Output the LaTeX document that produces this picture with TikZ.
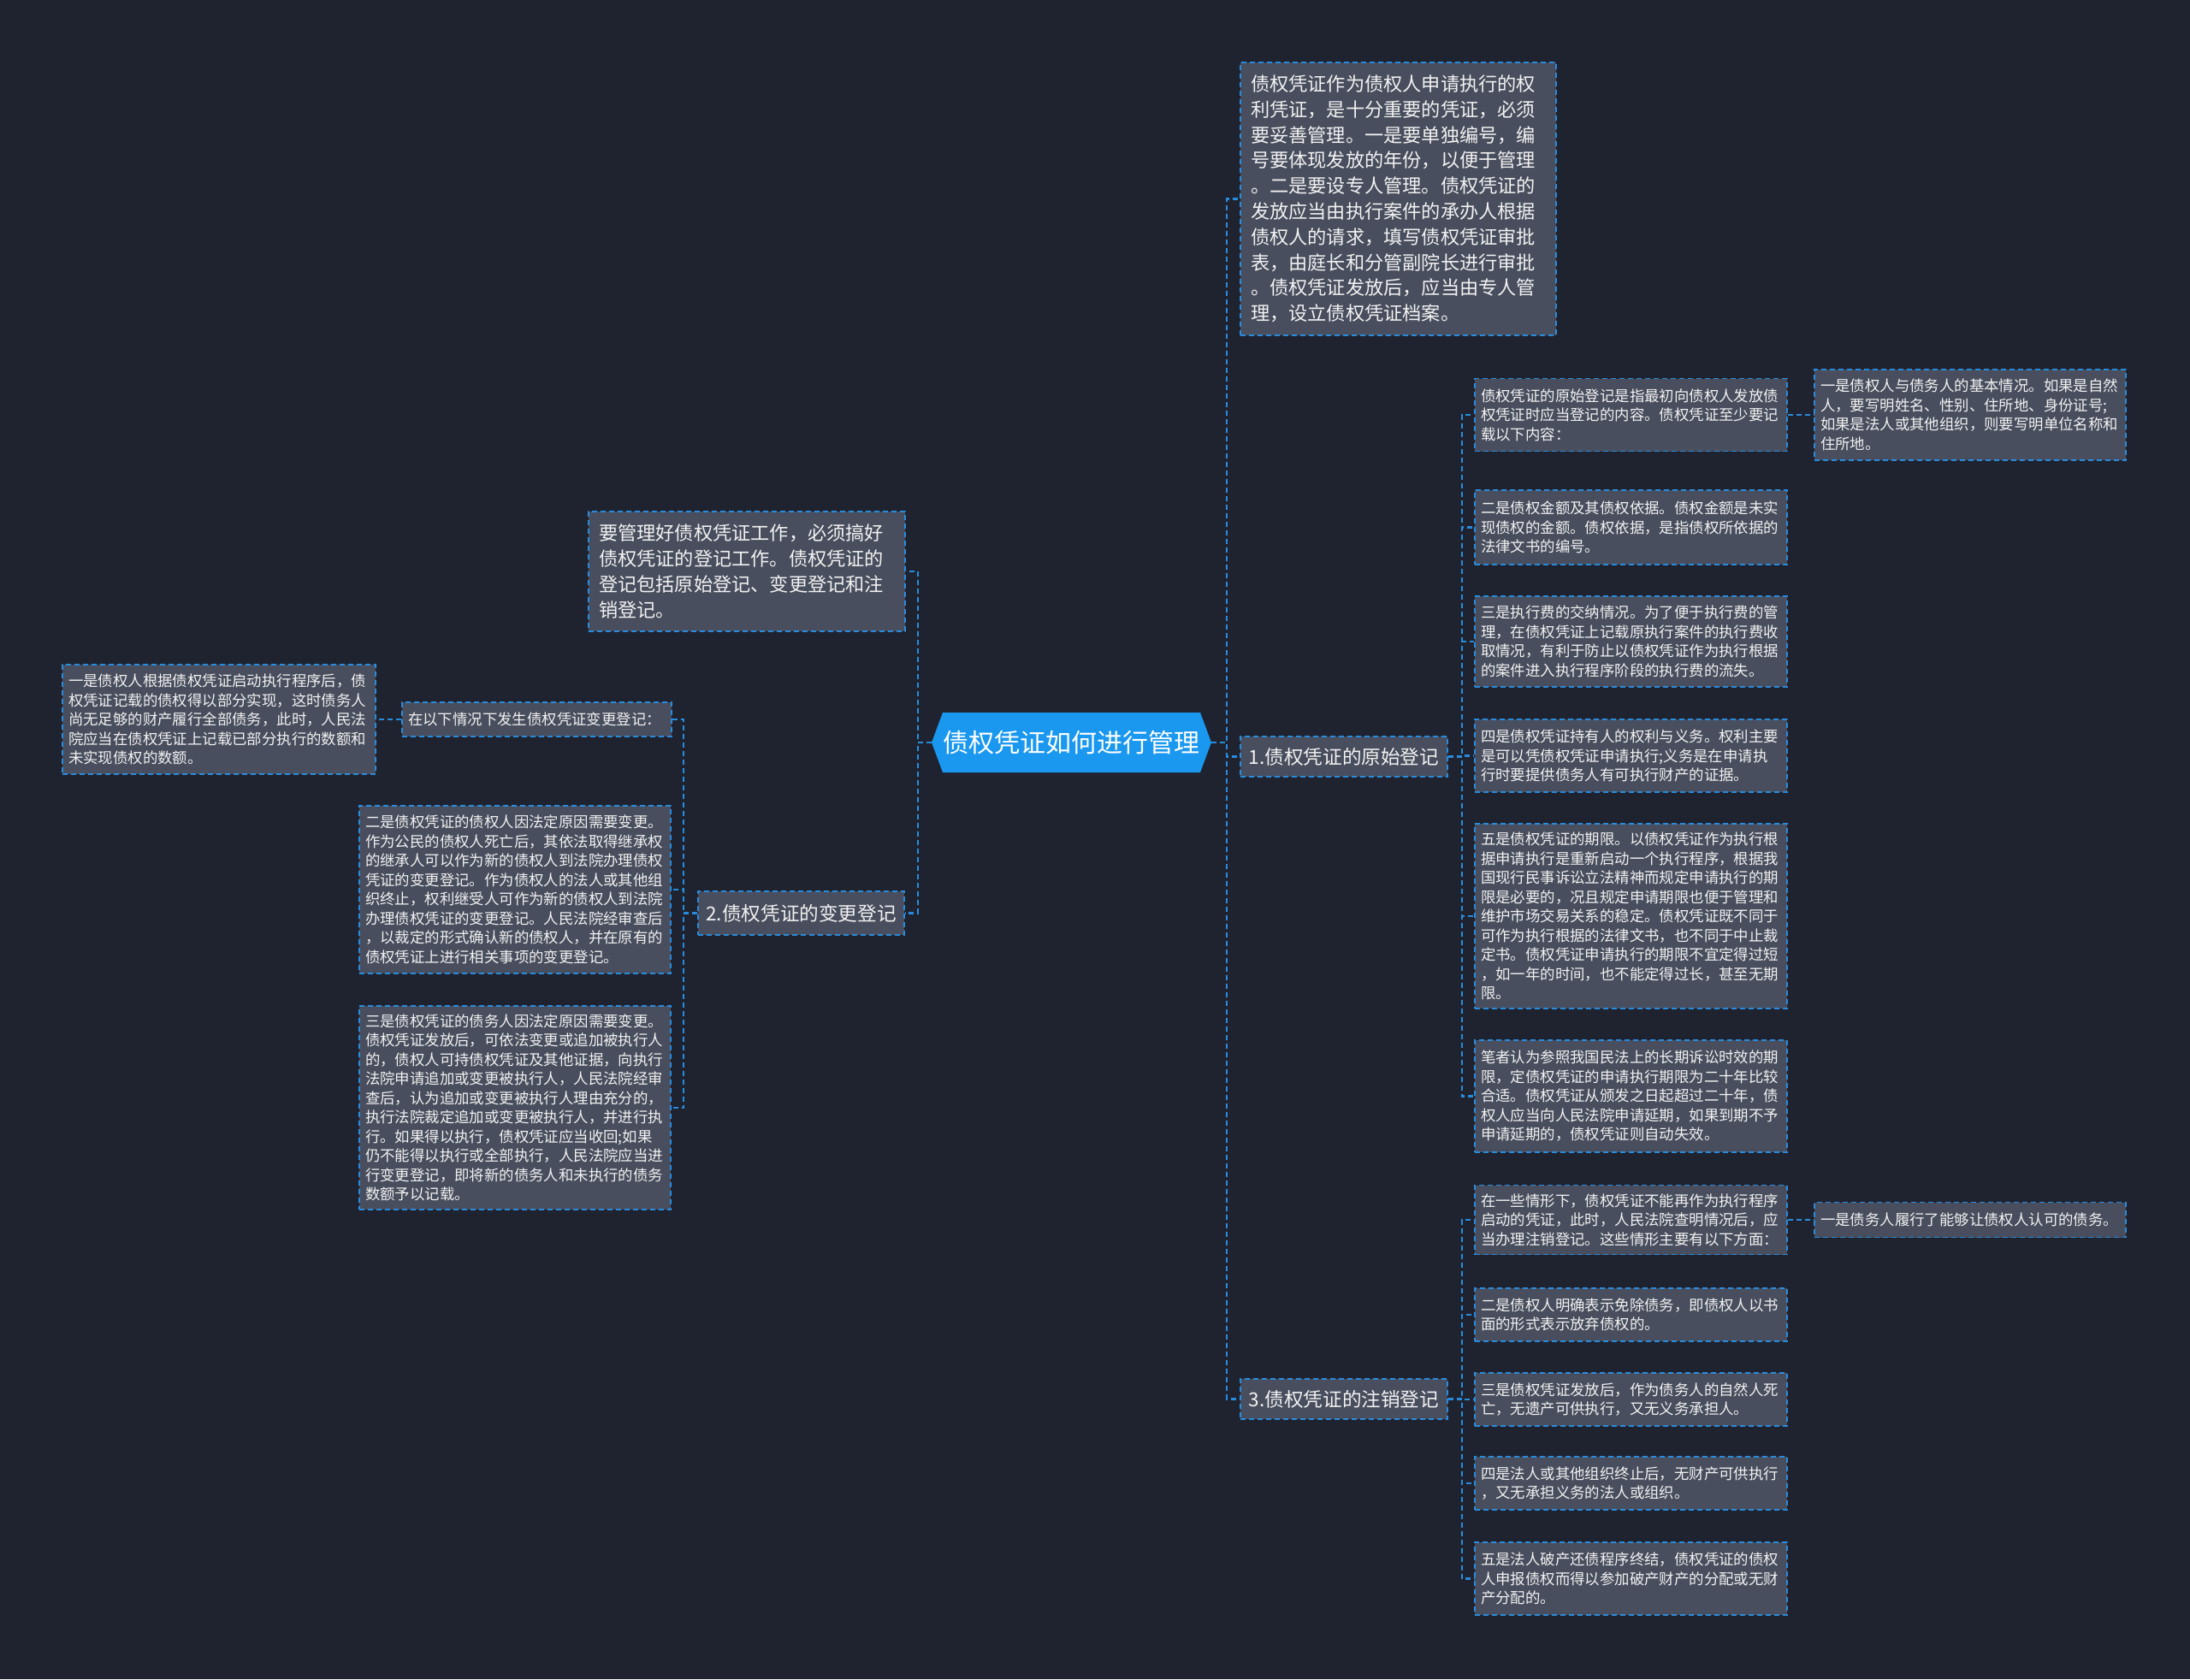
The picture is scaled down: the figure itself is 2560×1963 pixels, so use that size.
\documentclass[tikz,border=0pt]{standalone}
\usepackage{fontspec}
\setmainfont{Noto Sans CJK SC}
\usetikzlibrary{positioning}
\definecolor{mapbg}{RGB}{31,35,48}
\definecolor{boxgray}{RGB}{72,78,93}
\definecolor{edgeblue}{RGB}{40,140,222}
\definecolor{rootblue}{RGB}{26,152,240}
\definecolor{inktext}{RGB}{242,242,242}
\newcommand{\rootsize}{\fontsize{30}{36}\selectfont}
\newcommand{\topicsize}{\fontsize{22.6}{27}\selectfont}
\newcommand{\notesize}{\fontsize{22.2}{29.8}\selectfont}
\newcommand{\leafsize}{\fontsize{17.4}{22.5}\selectfont}
\tikzset{
  mapline/.style={draw=edgeblue, line width=2.2pt, dash pattern=on 6pt off 4pt},
  mapbase/.style={
    draw=edgeblue,
    line width=1.8pt,
    dash pattern=on 6pt off 4pt,
    fill=boxgray,
    text=inktext,
    align=left
  },
  maproot/.style={
    fill=mapbg,
    text=white,
    font=\rootsize,
    minimum width=327pt,
    minimum height=70pt,
    inner sep=0pt,
    path picture={
      \fill[rootblue] (path picture bounding box.west)
        -- ([xshift=13pt]path picture bounding box.north west)
        -- ([xshift=-13pt]path picture bounding box.north east)
        -- (path picture bounding box.east)
        -- ([xshift=-13pt]path picture bounding box.south east)
        -- ([xshift=13pt]path picture bounding box.south west) -- cycle;}
  },
  maptopic/.style={mapbase, font=\topicsize, align=center, inner sep=0pt, minimum width=242pt, minimum height=47pt},
  mapnote/.style={mapbase, font=\notesize, inner xsep=12pt, inner ysep=0pt, text width=345pt},
  mapleaf/.style={mapbase, font=\leafsize, inner xsep=7pt, inner ysep=0pt, text width=351pt}
}
\begin{document}
\begin{tikzpicture}[x=1pt, y=-1pt]
  \fill[mapbg] (0,0) rectangle (2560,1963);

  \node[maproot] (root) at (1252.5,868) {债权凭证如何进行管理};

  \node[mapnote, minimum height=319pt] (note) at (1634.5,232.5) {债权凭证作为债权人申请执行的权\\利凭证，是十分重要的凭证，必须\\要妥善管理。一是要单独编号，编\\号要体现发放的年份，以便于管理\\。二是要设专人管理。债权凭证的\\发放应当由执行案件的承办人根据\\债权人的请求，填写债权凭证审批\\表，由庭长和分管副院长进行审批\\。债权凭证发放后，应当由专人管\\理，设立债权凭证档案。};
  \node[maptopic] (orig) at (1571,884.5) {1.债权凭证的原始登记};
  \node[maptopic] (cancel) at (1571,1635.5) {3.债权凭证的注销登记};

  \node[mapleaf, minimum height=85pt] (orig1) at (1906.5,485) {债权凭证的原始登记是指最初向债权人发放债\\权凭证时应当登记的内容。债权凭证至少要记\\载以下内容：};
  \node[mapleaf, text width=350pt, minimum height=106pt] (origsub) at (2303,485) {一是债权人与债务人的基本情况。如果是自然\\人，要写明姓名、性别、住所地、身份证号;\\如果是法人或其他组织，则要写明单位名称和\\住所地。};
  \node[mapleaf, minimum height=87pt] (orig2) at (1906.5,616.5) {二是债权金额及其债权依据。债权金额是未实\\现债权的金额。债权依据，是指债权所依据的\\法律文书的编号。};
  \node[mapleaf, minimum height=106pt] (orig3) at (1906.5,750) {三是执行费的交纳情况。为了便于执行费的管\\理，在债权凭证上记载原执行案件的执行费收\\取情况，有利于防止以债权凭证作为执行根据\\的案件进入执行程序阶段的执行费的流失。};
  \node[mapleaf, minimum height=85pt] (orig4) at (1906.5,883.5) {四是债权凭证持有人的权利与义务。权利主要\\是可以凭债权凭证申请执行;义务是在申请执\\行时要提供债务人有可执行财产的证据。};
  \node[mapleaf, minimum height=216pt] (orig5) at (1906.5,1071) {五是债权凭证的期限。以债权凭证作为执行根\\据申请执行是重新启动一个执行程序，根据我\\国现行民事诉讼立法精神而规定申请执行的期\\限是必要的，况且规定申请期限也便于管理和\\维护市场交易关系的稳定。债权凭证既不同于\\可作为执行根据的法律文书，也不同于中止裁\\定书。债权凭证申请执行的期限不宜定得过短\\，如一年的时间，也不能定得过长，甚至无期\\限。};
  \node[mapleaf, minimum height=131pt] (orig6) at (1906.5,1281.5) {笔者认为参照我国民法上的长期诉讼时效的期\\限，定债权凭证的申请执行期限为二十年比较\\合适。债权凭证从颁发之日起超过二十年，债\\权人应当向人民法院申请延期，如果到期不予\\申请延期的，债权凭证则自动失效。};

  \node[mapleaf, minimum height=81pt] (cancel1) at (1906.5,1426) {在一些情形下，债权凭证不能再作为执行程序\\启动的凭证，此时，人民法院查明情况后，应\\当办理注销登记。这些情形主要有以下方面：};
  \node[mapleaf, text width=350pt, minimum height=41pt] (cancelsub) at (2303,1426) {一是债务人履行了能够让债权人认可的债务。};
  \node[mapleaf, minimum height=62pt] (cancel2) at (1906.5,1537) {二是债权人明确表示免除债务，即债权人以书\\面的形式表示放弃债权的。};
  \node[mapleaf, minimum height=62pt] (cancel3) at (1906.5,1636) {三是债权凭证发放后，作为债务人的自然人死\\亡，无遗产可供执行，又无义务承担人。};
  \node[mapleaf, minimum height=62pt] (cancel4) at (1906.5,1734) {四是法人或其他组织终止后，无财产可供执行\\，又无承担义务的法人或组织。};
  \node[mapleaf, minimum height=85pt] (cancel5) at (1906.5,1845.5) {五是法人破产还债程序终结，债权凭证的债权\\人申报债权而得以参加破产财产的分配或无财\\产分配的。};

  \node[mapnote, text width=346pt, minimum height=140pt] (intro) at (873,668) {要管理好债权凭证工作，必须搞好\\债权凭证的登记工作。债权凭证的\\登记包括原始登记、变更登记和注\\销登记。};
  \node[maptopic, minimum width=241pt, minimum height=51pt] (change) at (936.5,1067.5) {2.债权凭证的变更登记};
  \node[mapleaf, text width=301pt, minimum height=40pt] (change1) at (627.5,841) {在以下情况下发生债权凭证变更登记：};
  \node[mapleaf, text width=352pt, minimum height=128pt] (changesub) at (256,841) {一是债权人根据债权凭证启动执行程序后，债\\权凭证记载的债权得以部分实现，这时债务人\\尚无足够的财产履行全部债务，此时，人民法\\院应当在债权凭证上记载已部分执行的数额和\\未实现债权的数额。};
  \node[mapleaf, text width=350pt, minimum height=196pt] (change2) at (602,1040) {二是债权凭证的债权人因法定原因需要变更。\\作为公民的债权人死亡后，其依法取得继承权\\的继承人可以作为新的债权人到法院办理债权\\凭证的变更登记。作为债权人的法人或其他组\\织终止，权利继受人可作为新的债权人到法院\\办理债权凭证的变更登记。人民法院经审查后\\，以裁定的形式确认新的债权人，并在原有的\\债权凭证上进行相关事项的变更登记。};
  \node[mapleaf, text width=350pt, minimum height=238pt] (change3) at (602,1295) {三是债权凭证的债务人因法定原因需要变更。\\债权凭证发放后，可依法变更或追加被执行人\\的，债权人可持债权凭证及其他证据，向执行\\法院申请追加或变更被执行人，人民法院经审\\查后，认为追加或变更被执行人理由充分的，\\执行法院裁定追加或变更被执行人，并进行执\\行。如果得以执行，债权凭证应当收回;如果\\仍不能得以执行或全部执行，人民法院应当进\\行变更登记，即将新的债务人和未执行的债务\\数额予以记载。};

  \draw[mapline] (root.east) -- ++(18,0) |- (note.west);
  \draw[mapline] (root.east) -- ++(18,0) |- (orig.west);
  \draw[mapline] (root.east) -- ++(18,0) |- (cancel.west);
  \draw[mapline] (root.west) -- ++(-16,0) |- (intro.east);
  \draw[mapline] (root.west) -- ++(-16,0) |- (change.east);
  \foreach \leaf in {orig1,orig2,orig3,orig4,orig5,orig6}
    \draw[mapline] (orig.east) -- ++(16,0) |- (\leaf.west);
  \foreach \leaf in {cancel1,cancel2,cancel3,cancel4,cancel5}
    \draw[mapline] (cancel.east) -- ++(16,0) |- (\leaf.west);
  \foreach \leaf in {change1,change2,change3}
    \draw[mapline] (change.west) -- ++(-16,0) |- (\leaf.east);
  \draw[mapline] (orig1.east) -- (origsub.west);
  \draw[mapline] (cancel1.east) -- (cancelsub.west);
  \draw[mapline] (change1.west) -- (changesub.east);
\end{tikzpicture}
\end{document}
